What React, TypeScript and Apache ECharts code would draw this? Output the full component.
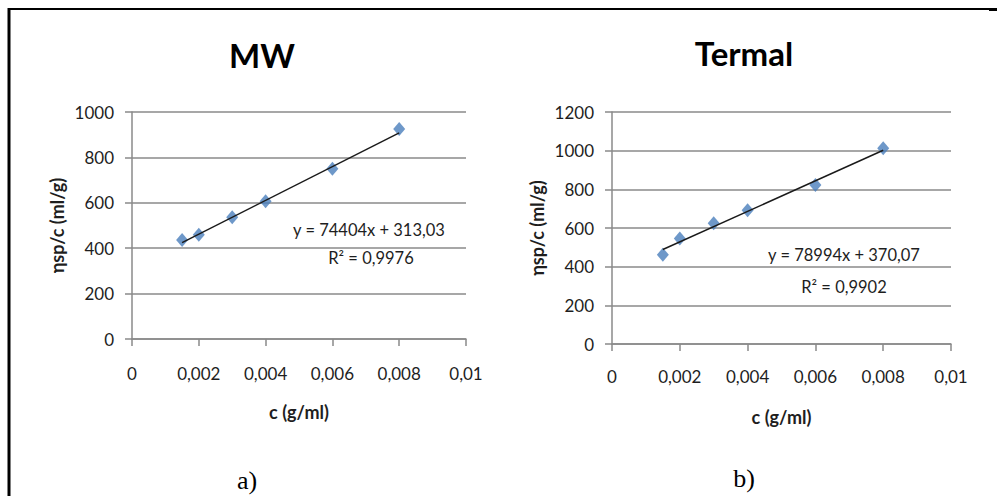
import React, { useEffect, useRef } from "react";
import * as echarts from "echarts";

// ---- data ----
const concentrations = [0.0015, 0.002, 0.003, 0.004, 0.006, 0.008];
const mwValues = [436, 459, 536, 607, 750, 925];
const termalValues = [462, 546, 624, 692, 822, 1012];
const mwFit = { slope: 74404, intercept: 313.03 };
const termalFit = { slope: 78994, intercept: 370.07 };
const xTickLabels = ["0", "0,002", "0,004", "0,006", "0,008", "0,01"];
const titles = ["MW", "Termal"];
const equations = ["y = 74404x + 313,03", "y = 78994x + 370,07"];
const r2Texts = ["R² = 0,9976", "R² = 0,9902"];
const panelLabels = ["a)", "b)"];

const FONT = "Lato, 'Open Sans', sans-serif";
const GRID_COLOR = "#8a8a8a";
const TEXT_COLOR = "#1e1e1e";
const MARKER = "#4a7ebb";

export default function App() {
  const ref = useRef<HTMLDivElement>(null);
  useEffect(() => {
    if (!ref.current) return;
    const chart = echarts.init(ref.current, undefined, { renderer: "svg" });
    const xFit = [concentrations[0], concentrations[concentrations.length - 1]];
    const fitLine = (f: { slope: number; intercept: number }) =>
      xFit.map((x) => [x, f.slope * x + f.intercept]);

    const xAxisBase = (gridIndex: number, labelMargin: number, nameGap: number) => ({
      type: "value",
      gridIndex,
      min: 0,
      max: 0.01,
      interval: 0.002,
      name: "c (g/ml)",
      nameLocation: "middle",
      nameGap,
      nameTextStyle: { fontFamily: FONT, fontWeight: "bold", fontSize: 18, color: TEXT_COLOR },
      axisLine: { show: true, lineStyle: { color: GRID_COLOR, width: 1.5 } },
      axisTick: { show: true, length: 7, inside: false, lineStyle: { color: GRID_COLOR, width: 1.5 } },
      splitLine: { show: false },
      axisLabel: {
        margin: labelMargin,
        fontFamily: FONT,
        fontSize: 17,
        color: TEXT_COLOR,
        formatter: (v: number) => xTickLabels[Math.round(v / 0.002)] ?? "",
      },
    });
    const yAxisBase = (gridIndex: number, max: number) => ({
      type: "value",
      gridIndex,
      min: 0,
      max,
      interval: 200,
      name: "ηsp/c (ml/g)",
      nameLocation: "middle",
      nameGap: 66,
      nameTextStyle: { fontFamily: FONT, fontWeight: "bold", fontSize: 18, color: TEXT_COLOR },
      axisLine: { show: true, lineStyle: { color: GRID_COLOR, width: 1.5 } },
      axisTick: { show: true, length: 7, lineStyle: { color: GRID_COLOR, width: 1.5 } },
      splitLine: { show: true, lineStyle: { color: GRID_COLOR, width: 1.5 } },
      axisLabel: {
        margin: 18,
        fontFamily: FONT,
        fontSize: 17,
        color: TEXT_COLOR,
        formatter: (v: number) => String(v),
      },
    });

    const scatter = (idx: number, values: number[]) => ({
      type: "scatter",
      xAxisIndex: idx,
      yAxisIndex: idx,
      symbol: "diamond",
      symbolSize: [12, 14],
      itemStyle: { color: MARKER },
      data: concentrations.map((c, i) => [c, values[i]]),
      z: 2,
    });
    const trend = (idx: number, f: { slope: number; intercept: number }) => ({
      type: "line",
      xAxisIndex: idx,
      yAxisIndex: idx,
      symbol: "none",
      lineStyle: { color: "#1a1a1a", width: 1.5 },
      data: fitLine(f),
      z: 3,
    });

    const txt = (x: number, y: number, text: string, size: number, extra: any = {}) => ({
      type: "text",
      x,
      y,
      style: {
        text,
        fontFamily: FONT,
        fontSize: size,
        fill: TEXT_COLOR,
        align: "center",
        verticalAlign: "middle",
        ...extra,
      },
    });

    chart.setOption({
      animation: false,
      backgroundColor: "#ffffff",
      grid: [
        { left: 132, top: 112, width: 334, height: 227 },
        { left: 612, top: 112, width: 339, height: 232 },
      ],
      xAxis: [xAxisBase(0, 26, 64), xAxisBase(1, 24, 64)],
      yAxis: [yAxisBase(0, 1000), yAxisBase(1, 1200)],
      series: [scatter(0, mwValues), trend(0, mwFit), scatter(1, termalValues), trend(1, termalFit)],
      graphic: [
        { type: "line", shape: { x1: 9, y1: 8, x2: 9, y2: 496 }, style: { stroke: "#000", lineWidth: 3 } },
        { type: "line", shape: { x1: 8, y1: 9, x2: 997, y2: 9 }, style: { stroke: "#000", lineWidth: 2 } },
        { type: "rect", shape: { x: 989, y: 8, width: 8, height: 3 }, style: { fill: "#000" } },
        txt(262, 55, titles[0], 33, { fontWeight: "bold", fill: "#000" }),
        txt(744, 53, titles[1], 33, { fontWeight: "bold", fill: "#000" }),
        txt(369, 230, equations[0], 16.5),
        txt(371, 258, r2Texts[0], 16.5),
        txt(844, 255, equations[1], 16.5),
        txt(844, 287, r2Texts[1], 16.5),
        txt(247, 480, panelLabels[0], 26, { fontFamily: "'Liberation Serif', 'Times New Roman', serif", fill: "#000" }),
        txt(744, 478, panelLabels[1], 26, { fontFamily: "'Liberation Serif', 'Times New Roman', serif", fill: "#000" }),
      ],
    });
    return () => chart.dispose();
  }, []);
  return (
    <div
      ref={ref}
      style={{ position: "fixed", left: 0, top: 0, width: 997, height: 496, background: "#fff" }}
    />
  );
}
